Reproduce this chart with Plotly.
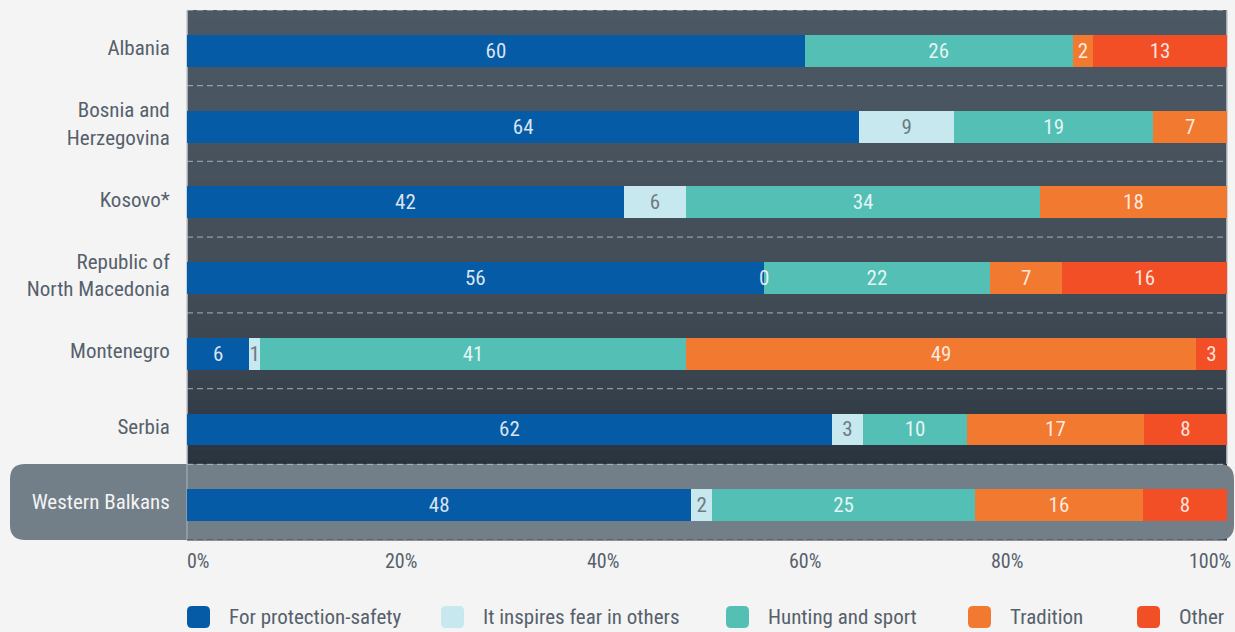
import plotly.graph_objects as go

# ---------------- data ----------------
countries = ["Albania", "Bosnia and<br>Herzegovina", "Kosovo*", "Republic of<br>North Macedonia",
             "Montenegro", "Serbia", "Western Balkans"]
series_names = ["For protection-safety", "It inspires fear in others", "Hunting and sport", "Tradition", "Other"]
protection = [60, 64, 42, 56, 6, 62, 48]
fear = [None, 9, 6, 0, 1, 3, 2]
hunting = [26, 19, 34, 22, 41, 10, 25]
tradition = [2, 7, 18, 7, 49, 17, 16]
other = [13, None, None, 16, 3, 8, 8]
x_tick_vals = [0, 20, 40, 60, 80, 100]
x_tick_labels = ["0%", "20%", "40%", "60%", "80%", "100%"]

series_values = [protection, fear, hunting, tradition, other]
colors = ["#065ba6", "#c6e8ee", "#54bfb5", "#f27930", "#f34f27"]
text_colors = ["rgba(255,255,255,0.85)", "#6e7a83", "rgba(255,255,255,0.85)",
               "rgba(255,255,255,0.85)", "rgba(255,255,255,0.85)"]

FONT = "Roboto Condensed, Roboto, sans-serif"
GREY_TXT = "#56616c"

W, H = 1235, 632
L, R, T, B = 187, 8, 10, 92
PW, PH = W - L - R, H - T - B

n = len(countries)
ypos = list(range(n))
y_top, y_bot = -0.54, n - 0.54  # axis range (reversed)

fig = go.Figure()
for name, vals, col, tc in zip(series_names, series_values, colors, text_colors):
    fig.add_trace(go.Bar(
        y=ypos, x=vals, orientation="h", name=name,
        marker=dict(color=col, line=dict(width=0)),
        width=0.42,
        text=["" if v is None else str(v) for v in vals],
        texttemplate="%{text}",
        textposition="inside", insidetextanchor="middle",
        constraintext="none", textangle=0,
        textfont=dict(family=FONT, size=21, color=tc),
        showlegend=False, hoverinfo="skip",
    ))

shapes = []
annotations = []


def px2paper_x(px):
    return (px - L) / PW


def py2paper_y(py):
    return (T + PH - py) / PH


# zero-valued segments: the bar has no width, so put its label at its stack position
for r in range(n):
    row_total = sum(v for vals in series_values if (v := vals[r]) is not None)
    cum = 0
    for vals in series_values:
        v = vals[r]
        if v is None:
            continue
        if v == 0:
            annotations.append(dict(text=str(v), x=cum / row_total * 100, xref="x", y=r, yref="y",
                                    showarrow=False, xanchor="center", yanchor="middle",
                                    font=dict(family=FONT, size=21, color="rgba(255,255,255,0.85)")))
        cum += v

# gradient background
stops = [(10, (76, 89, 100)), (255, (67, 78, 89)), (375, (58, 68, 79)), (464, (40, 51, 62)), (540, (38, 49, 59))]


def grad(py):
    for (a, ca), (b, cb) in zip(stops[:-1], stops[1:]):
        if a <= py <= b:
            t = (py - a) / (b - a)
            return tuple(round(ca[i] + (cb[i] - ca[i]) * t) for i in range(3))
    return stops[-1][1]


N = 53
for i in range(N):
    p0 = T + PH * i / N
    p1 = T + PH * (i + 1) / N
    c = grad((p0 + p1) / 2)
    shapes.append(dict(type="rect", xref="paper", yref="paper", x0=0, x1=1,
                       y0=py2paper_y(p1) - 0.001, y1=py2paper_y(p0),
                       fillcolor="rgb(%d,%d,%d)" % c, line=dict(width=0), layer="below"))


def rounded_rect(x0p, y0p, x1p, y1p, r):
    X0, X1 = px2paper_x(x0p), px2paper_x(x1p)
    Y0, Y1 = py2paper_y(y1p), py2paper_y(y0p)
    rx, ry = r / PW, r / PH
    return (f"M{X0+rx},{Y0} L{X1-rx},{Y0} Q{X1},{Y0} {X1},{Y0+ry} L{X1},{Y1-ry} "
            f"Q{X1},{Y1} {X1-rx},{Y1} L{X0+rx},{Y1} Q{X0},{Y1} {X0},{Y1-ry} "
            f"L{X0},{Y0+ry} Q{X0},{Y0} {X0+rx},{Y0} Z")


# highlight for last row
shapes.append(dict(type="path", xref="paper", yref="paper",
                   path=rounded_rect(10, 464, 1234, 540, 15),
                   fillcolor="#737f88", line=dict(width=0), layer="below"))

# plot edge lines
hl_top = py2paper_y(464)
shapes.append(dict(type="line", xref="paper", yref="paper", x0=0, x1=0, y0=hl_top, y1=1,
                   line=dict(color="#c4c9cd", width=1.5), layer="below"))
shapes.append(dict(type="line", xref="paper", yref="paper", x0=0, x1=0, y0=0, y1=hl_top,
                   line=dict(color="#9aa3aa", width=1.5), layer="below"))
shapes.append(dict(type="line", xref="paper", yref="paper", x0=1, x1=1, y0=hl_top, y1=1,
                   line=dict(color="#c4c9cd", width=1.5), layer="below"))

# dashed separators
for k in range(n + 1):
    yv = y_top + k
    col = "rgba(190,198,204,0.65)" if k < n else "rgba(70,80,90,0.8)"
    shapes.append(dict(type="line", xref="paper", yref="y", x0=0, x1=1, y0=yv, y1=yv,
                       line=dict(color=col, width=1.3, dash="6px,4px"), layer="below"))

# x tick labels spread like the reference
first_c, last_c = px2paper_x(198.5), px2paper_x(1209.5)
for i, lab in enumerate(x_tick_labels):
    xc = first_c + (last_c - first_c) * i / (len(x_tick_labels) - 1)
    annotations.append(dict(text=lab, x=xc, xref="paper", y=py2paper_y(561), yref="paper",
                            xanchor="center", yanchor="middle", showarrow=False,
                            font=dict(family=FONT, size=20, color=GREY_TXT)))

# manual legend
legend_left_px = [187, 441, 726, 968, 1137]
for name, col, lx in zip(series_names, colors, legend_left_px):
    shapes.append(dict(type="path", xref="paper", yref="paper",
                       path=rounded_rect(lx, 606, lx + 23, 628, 5),
                       fillcolor=col, line=dict(width=0)))
    annotations.append(dict(text=name, x=px2paper_x(lx + 40), xref="paper",
                            y=py2paper_y(617), yref="paper", xanchor="left", yanchor="middle",
                            showarrow=False, font=dict(family=FONT, size=21, color=GREY_TXT)))

ticktext = [c if i < n - 1 else f'<span style="color:#f4f4f4">{c}</span>' for i, c in enumerate(countries)]

fig.update_layout(
    width=W, height=H,
    margin=dict(l=L, r=R, t=T, b=B),
    paper_bgcolor="#f4f4f4", plot_bgcolor="#4b5863",
    barmode="stack", barnorm="percent",
    shapes=shapes, annotations=annotations,
    font=dict(family=FONT, color=GREY_TXT),
    xaxis=dict(range=[0, 100], tickvals=x_tick_vals, showticklabels=False, showgrid=False,
               zeroline=False, showline=False, fixedrange=True),
    yaxis=dict(range=[y_bot, y_top], tickvals=[v - 0.04 for v in ypos], ticktext=ticktext,
               showgrid=False, zeroline=False, showline=False,
               ticks="outside", ticklen=12, tickcolor="rgba(0,0,0,0)",
               tickfont=dict(family=FONT, size=21, color=GREY_TXT), fixedrange=True),
    showlegend=False,
)

fig.write_html("out.html", config={"displayModeBar": False},
               post_script="document.body.style.margin='0px';document.body.style.overflow='hidden';")
